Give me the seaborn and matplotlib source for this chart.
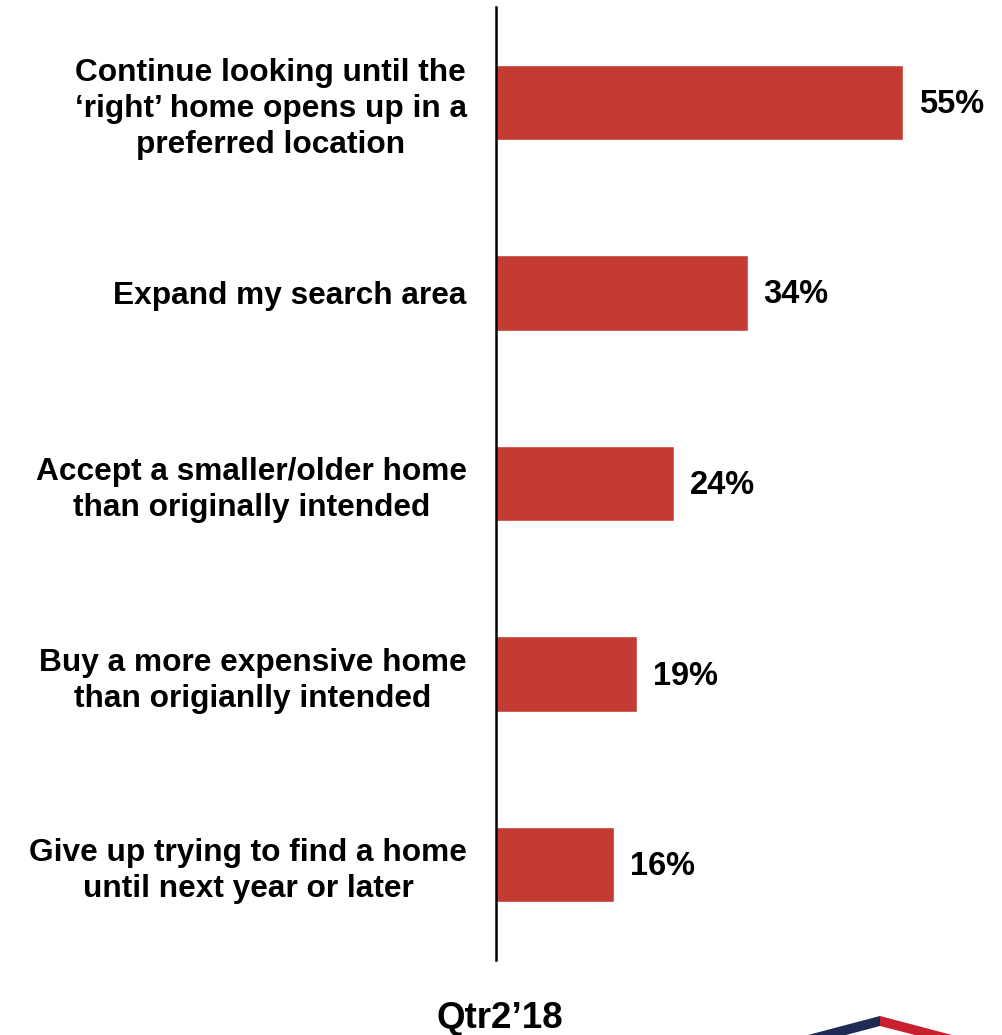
import matplotlib
matplotlib.use("Agg")
import matplotlib.pyplot as plt
from matplotlib.patches import Polygon
import seaborn as sns
import pandas as pd

categories = [
    "Continue looking until the\n\u2018right\u2019 home opens up in a\npreferred location",
    "Expand my search area",
    "Accept a smaller/older home\nthan originally intended",
    "Buy a more expensive home\nthan origianlly intended",
    "Give up trying to find a home\nuntil next year or later",
]
values = [55, 34, 24, 19, 16]
period_label = "Qtr2\u201918"

bar_color = "#C33B33"

sns.set_theme(style="white")
plt.rcParams["font.family"] = ["Liberation Sans", "DejaVu Sans"]

df = pd.DataFrame({"response": categories, "pct": values})

fig = plt.figure(figsize=(10.02, 10.35), dpi=100)
W, H = 1002, 1035
ax = fig.add_axes([496 / W, 1 - 960 / H, 444 / W, 953 / H])

sns.barplot(data=df, y="response", x="pct", orient="h", color=bar_color,
            saturation=1, width=0.395, ax=ax)

ax.set_xlim(0, 60)
ax.set_ylim(4.5, -0.5)
ax.set_xlabel("")
ax.set_ylabel("")
ax.set_xticks([])
for side in ["top", "right", "bottom"]:
    ax.spines[side].set_visible(False)
ax.spines["left"].set_color("black")
ax.spines["left"].set_linewidth(1.8)

ax.tick_params(axis="y", length=0, pad=21)
for lbl in ax.get_yticklabels():
    lbl.set_fontsize(22.8)
    lbl.set_fontweight("bold")
    lbl.set_color("black")
    lbl.set_multialignment("center")
    lbl.set_linespacing(1.27)

for i, v in enumerate(values):
    ax.annotate(f"{v}%", xy=(v, i), xytext=(11.5, -1.5), textcoords="offset points",
                ha="left", va="center", fontsize=23.5, fontweight="bold",
                color="black", clip_on=False)

fig.text(500 / W, 1 - 1019 / H, period_label, ha="center", va="center",
         fontsize=26.5, fontweight="bold", color="black")

# roof mark in the lower right corner
def px(x, y):
    return (x / W, 1 - y / H)

navy = Polygon([px(808, 1035), px(880, 1016), px(880, 1026), px(846, 1035)],
               closed=True, transform=fig.transFigure, color="#1F2A55", lw=0)
red = Polygon([px(880, 1016), px(952, 1035), px(915, 1035), px(880, 1026)],
              closed=True, transform=fig.transFigure, color="#C8202F", lw=0)
fig.patches.extend([navy, red])

fig.savefig("out.png", dpi=100)
